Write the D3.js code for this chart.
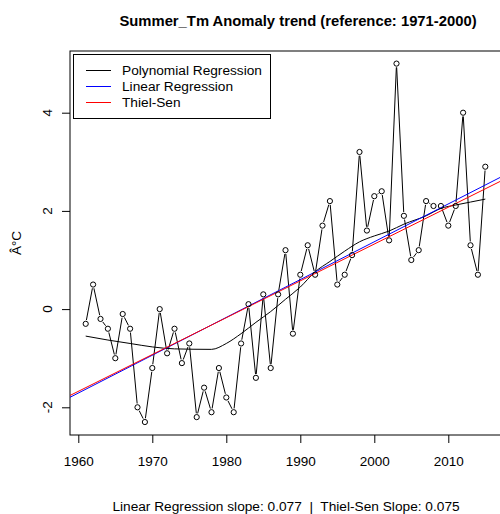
<!DOCTYPE html>
<html>
<head>
<meta charset="utf-8">
<script src="https://cdn.jsdelivr.net/npm/d3@7"></script>
<style>
  html, body { margin: 0; padding: 0; background: #fff; }
  svg { display: block; font-family: "Liberation Sans", Arial, sans-serif; }
</style>
</head>
<body>
<div id="chart"></div>
<script>
// ---- data ----
const years = d3.range(1961, 2016);
const anomalies = [
  -0.3, 0.5, -0.2, -0.4, -1.0, -0.1, -0.4, -2.0, -2.3, -1.2,
   0.0, -0.9, -0.4, -1.1, -0.7, -2.2, -1.6, -2.1, -1.2, -1.8,
  -2.1, -0.7, 0.1, -1.4, 0.3, -1.2, 0.3, 1.2, -0.5, 0.7,
   1.3, 0.7, 1.7, 2.2, 0.5, 0.7, 1.1, 3.2, 1.6, 2.3,
   2.4, 1.4, 5.0, 1.9, 1.0, 1.2, 2.2, 2.1, 2.1, 1.7,
   2.1, 4.0, 1.3, 0.7, 2.9
];
const polyYears  = [1961, 1964, 1967, 1970, 1973, 1978, 1980, 1982, 1984, 1986, 1988, 1990, 1992, 1994, 1996, 1998, 2000, 2002, 2004, 2007, 2009, 2011, 2013, 2015];
const polyValues = [-0.55, -0.63, -0.70, -0.77, -0.81, -0.82, -0.70, -0.50, -0.27, -0.05, 0.20, 0.45, 0.76, 0.97, 1.18, 1.37, 1.49, 1.59, 1.73, 1.90, 2.05, 2.12, 2.18, 2.24];
const linearSlope = 0.077;
const theilSenSlope = 0.075;
const xTicks = [1960, 1970, 1980, 1990, 2000, 2010];
const yTicks = [-2, 0, 2, 4];
const legendLabels = ["Polynomial Regression", "Linear Regression", "Thiel-Sen"];
const legendColors = ["#000000", "#0000ff", "#ff0000"];
const titleText = "Summer_Tm Anomaly trend (reference: 1971-2000)";
const yLabel = "Â°C";

// ---- fits (computed from the data) ----
const mx = d3.mean(years), my = d3.mean(anomalies);
const linB = d3.sum(years, (x, i) => (x - mx) * (anomalies[i] - my)) / d3.sum(years, x => (x - mx) ** 2);
const linA = my - linB * mx;
const pairSlopes = [];
for (let i = 0; i < years.length; i++)
  for (let j = i + 1; j < years.length; j++)
    pairSlopes.push((anomalies[j] - anomalies[i]) / (years[j] - years[i]));
const tsB = d3.median(pairSlopes);
const tsA = d3.median(years.map((x, i) => anomalies[i] - tsB * x));

// ---- layout ----
const W = 500, H = 514;
const plot = { left: 70, right: 501, top: 51, bottom: 435 };
const fs = 13.7;

const x = d3.scaleLinear().domain([1960, 2010]).range([78.3, 448.3]);
const y = d3.scaleLinear().domain([-2, 4]).range([407.3, 112.7]);

const svg = d3.select("#chart").append("svg").attr("width", W).attr("height", H);

svg.append("defs").append("clipPath").attr("id", "clip")
  .append("rect").attr("x", plot.left).attr("y", plot.top)
  .attr("width", plot.right - plot.left).attr("height", plot.bottom - plot.top);

// title
svg.append("text").attr("x", 298).attr("y", 26).attr("text-anchor", "middle")
  .attr("font-size", 14.8).attr("font-weight", "bold").text(titleText);

// box
svg.append("rect").attr("x", plot.left).attr("y", plot.top)
  .attr("width", plot.right - plot.left).attr("height", plot.bottom - plot.top)
  .attr("fill", "none").attr("stroke", "#000").attr("stroke-width", 1);

// x axis
const xAxis = svg.append("g").attr("transform", `translate(0,${plot.bottom})`)
  .call(d3.axisBottom(x).tickValues(xTicks).tickFormat(d3.format("d")).tickSize(8).tickPadding(13));
xAxis.select(".domain").remove();
xAxis.selectAll("text").attr("font-size", 13.5).attr("font-family", "Liberation Sans, Arial, sans-serif").attr("fill", "#000");

// y axis
const yAxis = svg.append("g").attr("transform", `translate(${plot.left},0)`)
  .call(d3.axisLeft(y).tickValues(yTicks).tickSize(8).tickFormat(d3.format("d")));
yAxis.select(".domain").remove();
yAxis.selectAll("text").remove();
yTicks.forEach(t => {
  svg.append("text").attr("transform", `translate(52,${y(t)}) rotate(-90)`)
    .attr("text-anchor", "middle").attr("font-size", 13.5).text(t);
});

// y label
svg.append("text").attr("transform", `translate(21,${(plot.top + plot.bottom) / 2}) rotate(-90)`)
  .attr("text-anchor", "middle").attr("font-size", 13.5).text(yLabel);

const g = svg.append("g").attr("clip-path", "url(#clip)");

// series with gaps (type "b")
const gap = 3.8;
for (let i = 0; i < years.length - 1; i++) {
  const x1 = x(years[i]), y1 = y(anomalies[i]);
  const x2 = x(years[i + 1]), y2 = y(anomalies[i + 1]);
  const dx = x2 - x1, dy = y2 - y1, L = Math.hypot(dx, dy);
  if (L <= 2 * gap) continue;
  const ux = dx / L, uy = dy / L;
  g.append("line")
    .attr("x1", x1 + ux * gap).attr("y1", y1 + uy * gap)
    .attr("x2", x2 - ux * gap).attr("y2", y2 - uy * gap)
    .attr("stroke", "#000").attr("stroke-width", 1);
}

// polynomial curve
g.append("path")
  .datum(polyYears.map((yr, i) => [yr, polyValues[i]]))
  .attr("fill", "none").attr("stroke", "#000").attr("stroke-width", 1)
  .attr("d", d3.line().x(d => x(d[0])).y(d => y(d[1])).curve(d3.curveMonotoneX));

// regression lines (abline style)
const xl = [x.invert(plot.left), x.invert(plot.right)];
g.append("line")
  .attr("x1", plot.left).attr("y1", y(linA + linB * xl[0]))
  .attr("x2", plot.right).attr("y2", y(linA + linB * xl[1]))
  .attr("stroke", legendColors[1]).attr("stroke-width", 1);
g.append("line")
  .attr("x1", plot.left).attr("y1", y(tsA + tsB * xl[0]))
  .attr("x2", plot.right).attr("y2", y(tsA + tsB * xl[1]))
  .attr("stroke", legendColors[2]).attr("stroke-width", 1);

// points
g.selectAll("circle.pt").data(years).join("circle").attr("class", "pt")
  .attr("cx", d => x(d)).attr("cy", (d, i) => y(anomalies[i])).attr("r", 2.6)
  .attr("fill", "none").attr("stroke", "#000").attr("stroke-width", 1);

// legend
const lg = svg.append("g");
lg.append("rect").attr("x", 73.5).attr("y", 54.5).attr("width", 197).attr("height", 64)
  .attr("fill", "#fff").attr("stroke", "#000").attr("stroke-width", 1);
legendLabels.forEach((lab, i) => {
  const cy = 70.5 + i * 16;
  lg.append("line").attr("x1", 86).attr("x2", 111).attr("y1", cy).attr("y2", cy)
    .attr("stroke", legendColors[i]).attr("stroke-width", 1);
  lg.append("text").attr("x", 122).attr("y", cy).attr("dy", "0.35em")
    .attr("font-size", fs).text(lab);
});

// bottom note
svg.append("text").attr("x", 286).attr("y", 511).attr("text-anchor", "middle")
  .attr("font-size", fs).style("white-space", "pre")
  .text(`Linear Regression slope: ${linearSlope.toFixed(3)}  |  Thiel-Sen Slope: ${theilSenSlope.toFixed(3)}`);
</script>
</body>
</html>
